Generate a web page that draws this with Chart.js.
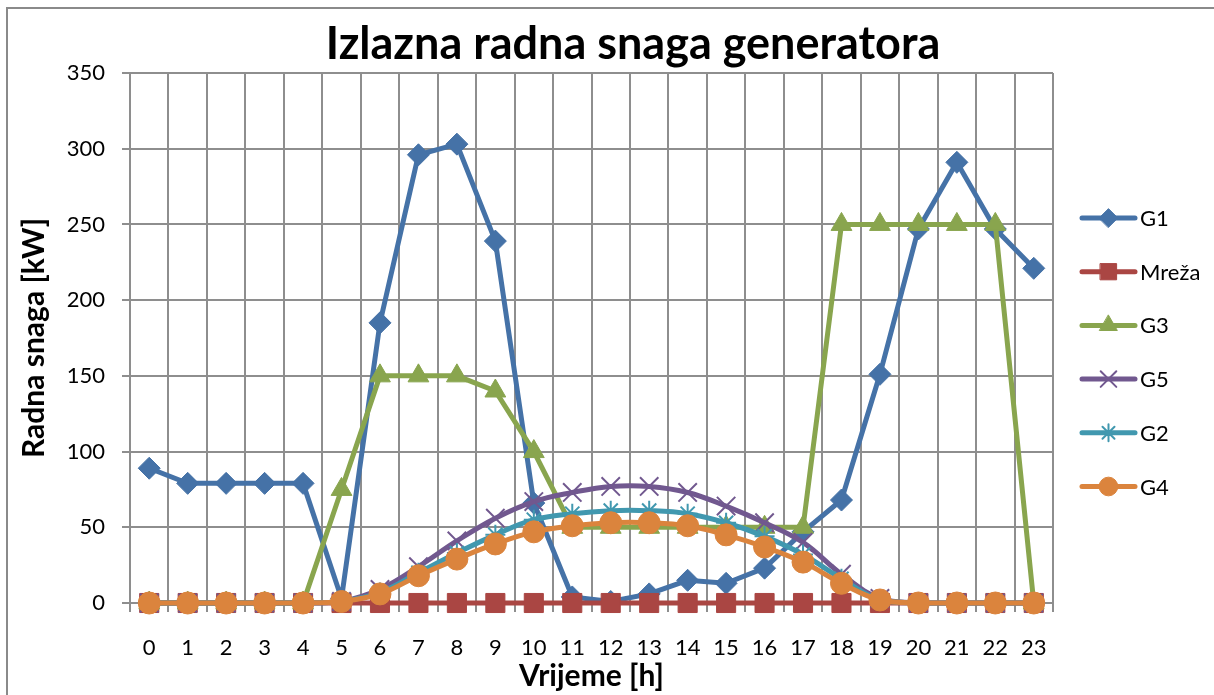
<!DOCTYPE html>
<html>
<head>
<meta charset="utf-8">
<title>Izlazna radna snaga generatora</title>
<script src="https://cdn.jsdelivr.net/npm/chart.js@4.4.1/dist/chart.umd.min.js"></script>
<style>
    html, body { margin: 0; padding: 0; background: #fff; }
    #wrap { position: relative; width: 1214px; height: 695px; }
</style>
</head>
<body>
<div id="wrap"><canvas id="snagaChart" width="1214" height="695"></canvas></div>
<script>
// Hours of the day and output power per source [kW]
const hours = ['0', '1', '2', '3', '4', '5', '6', '7', '8', '9', '10', '11',
               '12', '13', '14', '15', '16', '17', '18', '19', '20', '21', '22', '23'];
const g1    = [89, 79, 79, 79, 79, 3, 185, 296, 303, 239, 66, 4, 1, 6, 15, 13, 23, 47, 68, 151, 247, 291, 247, 221];
const mreza = [0, 0, 0, 0, 0, 0, 0, 0, 0, 0, 0, 0, 0, 0, 0, 0, 0, 0, 0, 0, 0, 0, 0, 0];
const g3    = [0, 0, 0, 0, 0, 75, 150, 150, 150, 140, 100, 50, 50, 50, 50, 50, 50, 50, 250, 250, 250, 250, 250, 0];
const g5    = [0, 0, 0, 0, 0, 1, 9, 24, 41, 56, 67, 73, 77, 77, 73, 64, 53, 40, 19, 3, 0, 0, 0, 0];
const g2    = [0, 0, 0, 0, 0, 1, 7, 20, 33, 45, 55, 59, 61, 61, 59, 53, 44, 32, 16, 2, 0, 0, 0, 0];
const g4    = [0, 0, 0, 0, 0, 1, 6, 18, 29, 39, 47, 51, 53, 53, 51, 45, 37, 27, 13, 2, 0, 0, 0, 0];

const FONT = 'Lato, "Open Sans", sans-serif';
const GRID = '#8e8e8e';

const makeSeries = (label, data, color, style, radius, extra = {}) => ({
    label,
    data,
    borderColor: color,
    backgroundColor: color,
    borderWidth: 5,
    pointStyle: style,
    pointRadius: radius,
    pointBackgroundColor: color,
    pointBorderColor: color,
    pointBorderWidth: 1,
    tension: 0,
    clip: false,
    ...extra
});

const datasets = [
    makeSeries('G1', g1, '#4572A7', 'rectRot', 11, { order: 5 }),
    makeSeries('Mreža', mreza, '#AA4643', 'rect', 13.5, { order: 4 }),
    makeSeries('G3', g3, '#89A54E', 'triangle', 12, { order: 3 }),
    makeSeries('G5', g5, '#71588F', 'crossRot', 13, { order: 2, tension: 0.4, pointBorderWidth: 2 }),
    makeSeries('G2', g2, '#4198AF', 'star', 10, { order: 1, tension: 0.4, pointBorderWidth: 2 }),
    makeSeries('G4', g4, '#DB843D', 'circle', 11, { order: 0, tension: 0.4 })
];

// frame + main heading
const framePlugin = {
    id: 'frame',
    beforeDraw(chart) {
        const ctx = chart.ctx;
        ctx.save();
        ctx.fillStyle = '#fff';
        ctx.fillRect(0, 0, chart.width, chart.height);
        ctx.strokeStyle = '#8a8a8a';
        ctx.lineWidth = 2;
        ctx.strokeRect(7, 8, chart.width, chart.height);
        ctx.fillStyle = '#000';
        ctx.font = 'bold 45px ' + FONT;
        ctx.textAlign = 'center';
        ctx.textBaseline = 'middle';
        ctx.fillText('Izlazna radna snaga generatora', 633, 44);
        ctx.restore();
    }
};

// legend on the right: short line with the marker in the middle
const sideLegend = {
    id: 'sideLegend',
    afterDraw(chart) {
        const ctx = chart.ctx;
        const x0 = chart.chartArea.right + 29;
        const x1 = x0 + 53;
        const top = 218;
        const step = 53.7;
        chart.data.datasets.forEach((ds, i) => {
            const y = top + i * step;
            ctx.save();
            ctx.strokeStyle = ds.borderColor;
            ctx.lineWidth = 5;
            ctx.lineCap = 'round';
            ctx.beginPath();
            ctx.moveTo(x0, y);
            ctx.lineTo(x1, y);
            ctx.stroke();
            ctx.fillStyle = ds.pointBackgroundColor;
            ctx.strokeStyle = ds.pointBorderColor;
            ctx.lineWidth = ds.pointBorderWidth;
            Chart.helpers.drawPoint(ctx, {
                pointStyle: ds.pointStyle,
                radius: ds.pointRadius * 0.85,
                rotation: 0,
                borderWidth: ds.pointBorderWidth
            }, (x0 + x1) / 2, y);
            ctx.fillStyle = '#000';
            ctx.font = '22px ' + FONT;
            ctx.textAlign = 'left';
            ctx.textBaseline = 'middle';
            ctx.fillText(ds.label, x1 + 5, y + 1);
            ctx.restore();
        });
    }
};

const ctx = document.getElementById('snagaChart').getContext('2d');
const chart = new Chart(ctx, {
    type: 'line',
    data: { labels: hours, datasets },
    options: {
        responsive: false,
        devicePixelRatio: 1,
        animation: false,
        layout: { padding: { top: 73, right: 161, left: 0, bottom: 0 } },
        scales: {
            x: {
                offset: true,
                afterFit: (scale) => { scale.height = 92; },
                grid: { offset: true, color: GRID, lineWidth: 2, tickLength: 9, drawTicks: true },
                border: { color: GRID, width: 2 },
                ticks: { color: '#000', padding: 23, maxRotation: 0, autoSkip: false, font: { family: FONT, size: 22 } },
                title: {
                    display: true,
                    text: 'Vrijeme [h]',
                    color: '#000',
                    font: { family: FONT, size: 30, weight: 'bold' },
                    padding: { top: 0, bottom: 1 }
                }
            },
            y: {
                min: 0,
                max: 350,
                afterFit: (scale) => { scale.width = 130; },
                grid: { color: GRID, lineWidth: 2, tickLength: 8 },
                border: { color: GRID, width: 2 },
                ticks: { stepSize: 50, color: '#000', padding: 17, font: { family: FONT, size: 22 } },
                title: {
                    display: true,
                    text: 'Radna snaga [kW]',
                    color: '#000',
                    font: { family: FONT, size: 30, weight: 'bold' },
                    padding: { top: 16, bottom: 0 }
                }
            }
        },
        plugins: {
            legend: { display: false },
            tooltip: { enabled: false }
        }
    },
    plugins: [framePlugin, sideLegend]
});
</script>
</body>
</html>
